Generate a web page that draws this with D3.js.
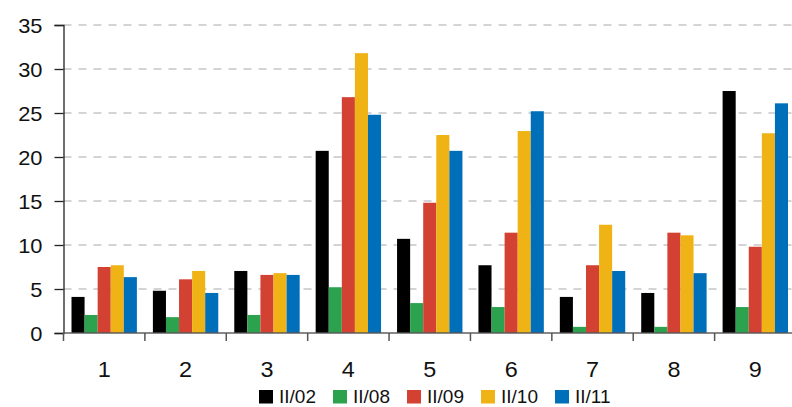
<!DOCTYPE html>
<html>
<head>
<meta charset="utf-8">
<script src="https://cdn.jsdelivr.net/npm/d3@7"></script>
<style>
  html, body { margin: 0; padding: 0; background: #fff; }
  svg { display: block; font-family: "Liberation Sans", Arial, sans-serif; }
</style>
</head>
<body>
<svg id="chart" width="792" height="407"></svg>
<script>
const categories = ["1", "2", "3", "4", "5", "6", "7", "8", "9"];
const seriesNames = ["II/02", "II/08", "II/09", "II/10", "II/11"];
const seriesColors = ["#000000", "#2ca24f", "#d34133", "#f0b316", "#006fba"];
const s02 = [4.1, 4.8, 7.05, 20.7, 10.7, 7.7, 4.1, 4.55, 27.5];
const s08 = [2.05, 1.8, 2.05, 5.2, 3.4, 2.95, 0.7, 0.7, 2.95];
const s09 = [7.5, 6.1, 6.6, 26.8, 14.8, 11.4, 7.7, 11.4, 9.8];
const s10 = [7.7, 7.05, 6.8, 31.8, 22.5, 22.95, 12.3, 11.1, 22.7];
const s11 = [6.35, 4.55, 6.6, 24.8, 20.7, 25.2, 7.05, 6.8, 26.1];
const yTicks = [0, 5, 10, 15, 20, 25, 30, 35];

const seriesValues = [s02, s08, s09, s10, s11];

(function () {
const svg = d3.select("#chart");
const mLeft = 63.5, mRight = 796, mTop = 25, mBottom = 333;

const x = d3.scaleBand().domain(categories).range([mLeft, mRight]).paddingInner(0).paddingOuter(0);
const x1 = d3.scaleBand().domain(seriesNames).range([8, x.bandwidth() - 8]).padding(0);
const y = d3.scaleLinear().domain([0, 35]).range([mBottom, mTop]);

// gridlines
svg.append("g").selectAll("line")
  .data(yTicks.filter(d => d > 0))
  .join("line")
  .attr("x1", mLeft).attr("x2", mRight)
  .attr("y1", d => y(d)).attr("y2", d => y(d))
  .attr("stroke", "#d4d4d4")
  .attr("stroke-width", 2)
  .attr("stroke-dasharray", "8,7");

// bars
const groups = svg.append("g").selectAll("g")
  .data(categories.map((c, i) => ({ c, i })))
  .join("g")
  .attr("transform", d => `translate(${x(d.c)},0)`);

groups.selectAll("rect")
  .data(d => seriesNames.map((s, k) => ({ s, k, v: seriesValues[k][d.i] })))
  .join("rect")
  .attr("x", d => x1(d.s))
  .attr("width", x1.bandwidth())
  .attr("y", d => y(d.v))
  .attr("height", d => y(0) - y(d.v))
  .attr("fill", d => seriesColors[d.k]);

// y axis
const yAxis = svg.append("g")
  .attr("transform", `translate(${mLeft},0)`)
  .call(d3.axisLeft(y).tickValues(yTicks).tickSize(9).tickFormat(""));
yAxis.select(".domain").attr("stroke", "#222").attr("stroke-width", 1.3);
yAxis.selectAll(".tick line").attr("stroke", "#222").attr("stroke-width", 1.3);

svg.append("g").selectAll("g")
  .data(yTicks)
  .join("g")
  .attr("transform", d => `translate(42.5,${y(d)}) scale(1.04,1)`)
  .append("text")
  .attr("text-anchor", "end")
  .attr("dy", "0.36em")
  .attr("font-size", 21)
  .attr("fill", "#111")
  .text(d => d);

// x axis
const xAxisG = svg.append("g").attr("transform", `translate(0,${mBottom})`);
xAxisG.append("line")
  .attr("x1", mLeft).attr("x2", mRight)
  .attr("y1", 0).attr("y2", 0)
  .attr("stroke", "#555").attr("stroke-opacity", 0.7).attr("stroke-width", 2);
const boundaries = categories.map(c => x(c));
xAxisG.selectAll("line.tk")
  .data(boundaries)
  .join("line")
  .attr("class", "tk")
  .attr("x1", d => d).attr("x2", d => d)
  .attr("y1", 0).attr("y2", 8)
  .attr("stroke", "#555").attr("stroke-width", 1.5);
xAxisG.selectAll("g.lbl")
  .data(categories)
  .join("g")
  .attr("class", "lbl")
  .attr("transform", d => `translate(${x(d) + x.bandwidth() / 2},43.7) scale(1.04,1)`)
  .append("text")
  .attr("text-anchor", "middle")
  .attr("font-size", 22.5)
  .attr("fill", "#111")
  .text(d => d);

// legend
const legend = svg.append("g").attr("transform", "translate(259,389)");
const items = legend.selectAll("g")
  .data(seriesNames.map((s, k) => ({ s, k })))
  .join("g")
  .attr("transform", d => `translate(${d.k * 74},0)`);
items.append("rect")
  .attr("x", 0).attr("y", 1)
  .attr("width", 14).attr("height", 13.5)
  .attr("fill", d => seriesColors[d.k]);
items.append("text")
  .attr("x", 20).attr("y", 13.5)
  .attr("font-size", 19)
  .attr("fill", "#111")
  .text(d => d.s);
})();
</script>
</body>
</html>
